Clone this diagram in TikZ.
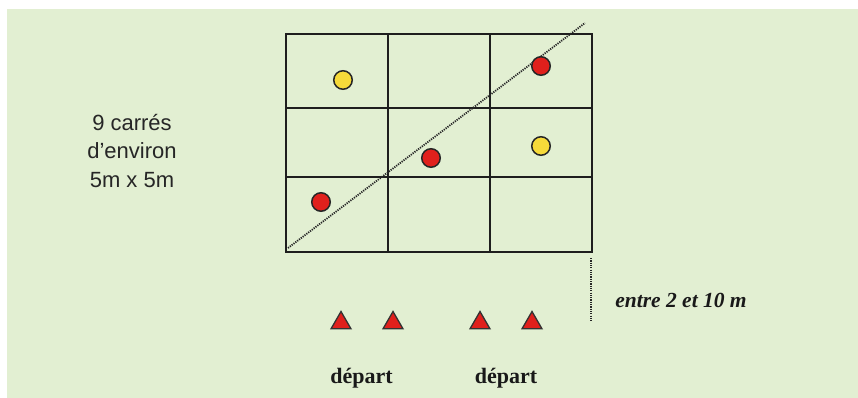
\documentclass[tikz,border=0pt]{standalone}
\usepackage{fontspec}
\setmainfont{Liberation Serif}
\newfontfamily\arialf{Liberation Sans}
\usetikzlibrary{shapes.geometric}
\definecolor{bggreen}{RGB}{226,239,210}
\definecolor{dotred}{RGB}{224,32,28}
\definecolor{dotyellow}{RGB}{246,218,58}
\definecolor{gridline}{RGB}{30,30,30}
\tikzset{
  gridln/.style={draw=gridline,line width=1.8pt},
  reddot/.style={circle,draw=black!85,line width=1.5pt,fill=dotred,minimum size=18.5pt,inner sep=0pt},
  yellowdot/.style={circle,draw=black!85,line width=1.5pt,fill=dotyellow,minimum size=18.5pt,inner sep=0pt},
  starttri/.style={regular polygon,regular polygon sides=3,draw=black!80,line width=1.3pt,fill=dotred,minimum size=23pt,inner sep=0pt},
  dottedln/.style={draw=black!70!gray,line width=1.8pt,dash pattern=on 1.2pt off 1.1pt},
  sidelabel/.style={font=\arialf\fontsize{22}{28.5}\selectfont,align=center,text=black!85},
  boldlbl/.style={font=\bfseries\fontsize{22}{24}\selectfont,text=black!90},
}
\begin{document}
\begin{tikzpicture}[x=1pt,y=-1pt]
\useasboundingbox (0,0) rectangle (858,398);
\fill[bggreen] (7,9) rectangle (858,398);
% grid
\draw[gridln] (286,34) rectangle (592,252);
\draw[gridln] (388,34) -- (388,252);
\draw[gridln] (490,34) -- (490,252);
\draw[gridln] (286,108) -- (592,108);
\draw[gridln] (286,177) -- (592,177);
% diagonal
\coordinate (d1) at (288,248);
\coordinate (d2) at (585,23);
\draw[dottedln] (d1) -- (d2);
% dots
\node[yellowdot] (y1) at (343,80) {};
\node[reddot] (r1) at (541,66) {};
\node[reddot] (r2) at (431,158) {};
\node[yellowdot] (y2) at (541,146) {};
\node[reddot] (r3) at (321,202) {};
% left label
\node[sidelabel] (lbl) at (132,151) {9 carrés\\d’environ\\5m x 5m};
% distance marker
\coordinate (v1) at (591,258);
\coordinate (v2) at (591,322);
\draw[dottedln] (v1) -- (v2);
\node[font=\bfseries\itshape\fontsize{21.5}{24}\selectfont,text=black!90] (dist) at (681,300) {entre 2 et 10 m};
% start triangles
\node[starttri] (t1) at (341,323) {};
\node[starttri] (t2) at (393,323) {};
\node[starttri] (t3) at (480,323) {};
\node[starttri] (t4) at (532,323) {};
\node[boldlbl] (dep1) at (361.5,378) {départ};
\node[boldlbl] (dep2) at (506,378) {départ};
\end{tikzpicture}
\end{document}
